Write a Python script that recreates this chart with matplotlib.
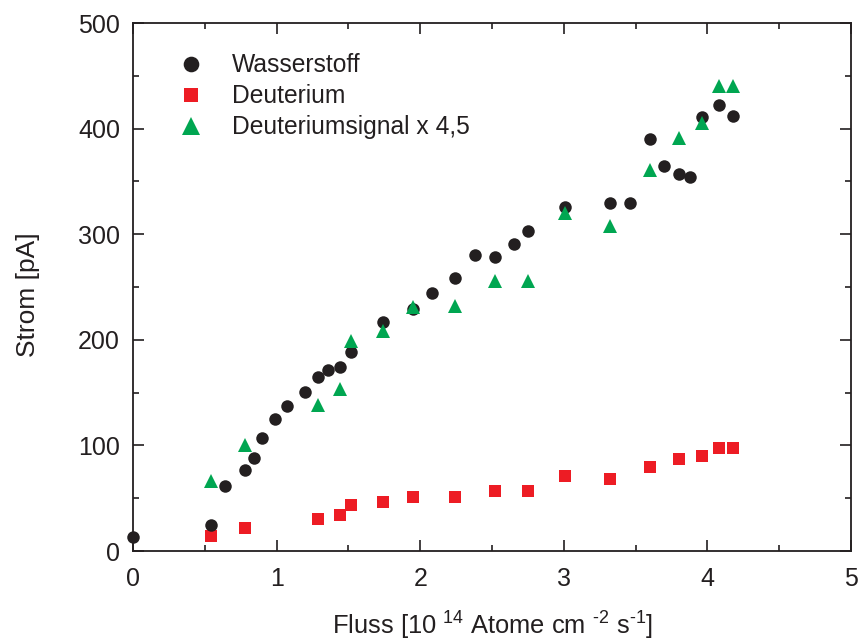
import matplotlib
matplotlib.use("Agg")
import matplotlib.pyplot as plt
from matplotlib.ticker import MultipleLocator

plt.rcParams['font.family'] = ['Liberation Sans', 'DejaVu Sans']
plt.rcParams['mathtext.fontset'] = 'custom'
plt.rcParams['mathtext.rm'] = 'Liberation Sans'
plt.rcParams['mathtext.it'] = 'Liberation Sans'

# Wasserstoff
h_x = [0.0, 0.54, 0.64, 0.78, 0.84, 0.90, 0.99, 1.07, 1.20, 1.29, 1.36, 1.44, 1.52,
       1.74, 1.95, 2.08, 2.24, 2.38, 2.52, 2.65, 2.75, 3.01, 3.32, 3.46, 3.60, 3.70,
       3.80, 3.88, 3.96, 4.08, 4.18]
h_y = [13, 25, 62, 77, 88, 107, 125, 137, 151, 165, 171, 174, 188,
       217, 229, 244, 259, 280, 278, 291, 303, 326, 330, 330, 390, 365,
       357, 354, 411, 422, 412]

# Deuterium
d_x = [0.54, 0.78, 1.29, 1.44, 1.52, 1.74, 1.95, 2.24, 2.52, 2.75, 3.01, 3.32,
       3.60, 3.80, 3.96, 4.08, 4.18]
d_y = [14.5, 22, 30.6, 34, 44, 46, 51, 51.4, 57, 57, 71, 68,
       80, 87, 90, 98, 98]

# Deuteriumsignal x 4,5
t_x = [0.54, 0.78, 1.29, 1.44, 1.52, 1.74, 1.95, 2.24, 2.52, 2.75, 3.01, 3.32,
       3.60, 3.80, 3.96, 4.08, 4.18]
t_y = [66, 100, 138, 153, 199, 208, 231, 232, 256, 256, 320, 308,
       361, 391, 405, 440, 440]

fig = plt.figure(figsize=(8.61, 6.41), dpi=100)
ax = fig.add_axes([0.1545, 0.1404, 0.8339, 0.8237])

ax.plot(h_x, h_y, 'o', color='#231f20', markersize=9, markeredgewidth=0, label='Wasserstoff', clip_on=False, zorder=3)
ax.plot(d_x, d_y, 's', color='#ed1c24', markersize=8.4, markeredgewidth=0, label='Deuterium', clip_on=False, zorder=2)
ax.plot(t_x, t_y, '^', color='#00a651', markersize=10.5, markeredgewidth=0, label='Deuteriumsignal x 4,5', clip_on=False, zorder=4)

ax.set_xlim(0, 5)
ax.set_ylim(0, 500)
ax.xaxis.set_major_locator(MultipleLocator(1))
ax.xaxis.set_minor_locator(MultipleLocator(0.5))
ax.yaxis.set_major_locator(MultipleLocator(100))
ax.yaxis.set_minor_locator(MultipleLocator(50))
ax.tick_params(which='both', direction='in', top=True, right=True, width=1.2,
               labelsize=18, colors='#231f20', labelcolor='#231f20')
ax.tick_params(axis='x', which='both', pad=11.5)
ax.tick_params(axis='y', which='both', pad=9.4)
ax.tick_params(which='major', length=8)
ax.tick_params(which='minor', length=4.3)
for s in ax.spines.values():
    s.set_linewidth(1.3)
    s.set_color('#231f20')

ax.set_xlabel(r'Fluss [10 $^{14}$ Atome cm $^{\text{-2}}$ s$^{\text{-1}}$]', fontsize=18.4,
              color='#231f20', va='center')
ax.xaxis.set_label_coords(0.501, -0.141)
ax.set_ylabel('Strom [pA]', fontsize=19, color='#231f20', va='center')
ax.yaxis.set_label_coords(-0.146, 0.485)

leg = ax.legend(loc='upper left', bbox_to_anchor=(0.047, 0.943), frameon=False, fontsize=17.7,
                handletextpad=0.64, labelspacing=0.29, borderaxespad=0, borderpad=0,
                numpoints=1, markerscale=1.25, handlelength=2.0)
for t in leg.get_texts():
    t.set_color('#231f20')

fig.savefig('out.png', dpi=100)
